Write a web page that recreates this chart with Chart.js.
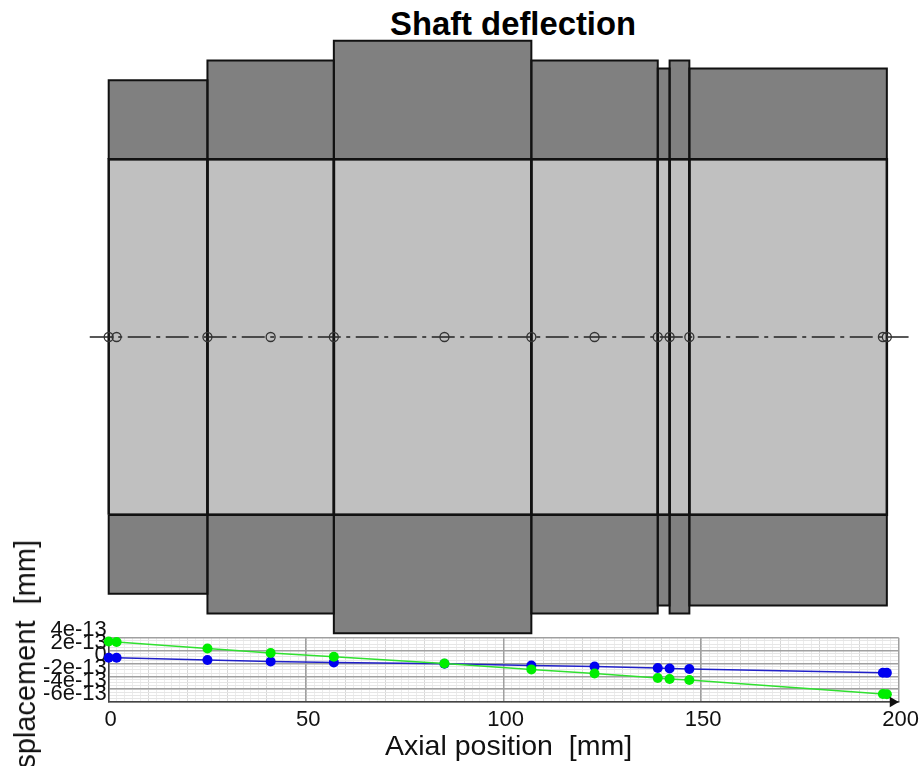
<!DOCTYPE html>
<html>
<head>
<meta charset="utf-8">
<title>Shaft deflection</title>
<script src="https://cdn.jsdelivr.net/npm/chart.js@4"></script>
<style>
    html, body { margin: 0; padding: 0; width: 922px; height: 766px; overflow: hidden; background: #fff; }
    body { position: relative; font-family: "Liberation Sans", Arial, sans-serif; color: #111; }
    canvas { position: absolute; left: 0; }
    #shaft-chart { top: 0; }
    #deflection-chart { top: 600px; }
    #chart-title { position: absolute; left: 390px; top: 4px; font-size: 32.8px; line-height: 40px; font-weight: bold; white-space: nowrap; color: #000; }
    #y-title { position: absolute; left: 9px; top: 540px; font-size: 29px; line-height: 32px; white-space: pre; writing-mode: vertical-rl; transform: rotate(180deg); }
    #x-title { position: absolute; left: 385px; top: 729px; font-size: 28.5px; line-height: 32px; white-space: pre; }
</style>
</head>
<body>
<div id="chart-title">Shaft deflection</div>
<canvas id="shaft-chart" width="922" height="674"></canvas>
<canvas id="deflection-chart" width="922" height="166"></canvas>
<div id="y-title">Displacement  [mm]</div>
<div id="x-title">Axial position  [mm]</div>
<script>
// shaft geometry, mm
const sectionEdges = [0, 25, 57, 107, 139, 142, 147, 197];
const boreRadius = 45;
const outerRadius = [65, 70, 75, 70, 68, 70, 68];
const centerLineEnds = [-4.8, 202.5];

// calculation nodes along the shaft, mm
const nodePositions = [0, 2, 25, 41, 57, 85, 107, 123, 139, 142, 147, 196, 197];

// displacement at each node, in units of 1e-13 mm
const greenValues = [3.42, 3.33, 2.33, 1.62, 1.04, 0, -0.93, -1.56, -2.27, -2.43, -2.58, -4.76, -4.8];
const blueValues = [0.89, 0.87, 0.53, 0.31, 0.16, -0.05, -0.31, -0.47, -0.72, -0.78, -0.87, -1.45, -1.47];

const yTickValues = [4, 2, 0, -2, -4, -6];
const yTickLabels = ['4e-13', '2e-13', '0', '-2e-13', '-4e-13', '-6e-13'];
const arrowTip = [198.5, -6];

// the filler needs an open path, closing the rectangle collapses its x bounds
const openRect = (x0, x1, y0, y1) => [
    {x: x0, y: y0}, {x: x0, y: y1}, {x: x1, y: y1}, {x: x1, y: y0}
];

const sectionFill = (x0, x1, y0, y1, color) => ({
    data: openRect(x0, x1, y0, y1),
    showLine: true,
    pointRadius: 0,
    borderWidth: 0,
    backgroundColor: color,
    fill: {value: y0},
    clip: false,
    order: 6
});

const sectionOutline = (x0, x1, y0, y1, width, order) => ({
    data: [...openRect(x0, x1, y0, y1), {x: x0, y: y0}],
    showLine: true,
    pointRadius: 0,
    borderColor: '#111',
    borderWidth: width,
    borderJoinStyle: 'miter',
    clip: false,
    order
});

const shaftDatasets = [];
outerRadius.forEach((r, i) => {
    const x0 = sectionEdges[i], x1 = sectionEdges[i + 1];
    shaftDatasets.push(sectionFill(x0, x1, boreRadius, r, '#808080'));
    shaftDatasets.push(sectionFill(x0, x1, -boreRadius, -r, '#808080'));
    shaftDatasets.push(sectionFill(x0, x1, -boreRadius, boreRadius, '#c0c0c0'));
    shaftDatasets.push(sectionOutline(x0, x1, boreRadius, r, 2, 4));
    shaftDatasets.push(sectionOutline(x0, x1, -boreRadius, -r, 2, 4));
    shaftDatasets.push(sectionOutline(x0, x1, -boreRadius, boreRadius, 2.5, 3));
});
shaftDatasets.push({
    data: centerLineEnds.map(x => ({x, y: 0})),
    showLine: true,
    pointRadius: 0,
    borderColor: '#222',
    borderWidth: 1.5,
    borderDash: [23, 5.5, 4, 5.5],
    clip: false,
    order: 2
});
shaftDatasets.push({
    data: nodePositions.map(x => ({x, y: 0})),
    showLine: false,
    pointRadius: 4.5,
    pointBorderWidth: 1.3,
    pointBorderColor: '#333',
    pointBackgroundColor: 'transparent',
    clip: false,
    order: 1
});

new Chart(document.getElementById('shaft-chart'), {
    type: 'scatter',
    data: {datasets: shaftDatasets},
    options: {
        responsive: false,
        animation: false,
        layout: {padding: {left: 108.7, right: 23.3, top: 0, bottom: 0}},
        plugins: {legend: {display: false}, tooltip: {enabled: false}},
        scales: {
            x: {type: 'linear', min: 0, max: 200, display: false},
            y: {type: 'linear', min: -83.85, max: 83.85, display: false}
        }
    }
});

const tickFont = {family: '"Liberation Sans", Arial, sans-serif', size: 22, lineHeight: 1.3};

const seriesDataset = (values, lineColor, dotColor, order) => ({
    data: nodePositions.map((x, i) => ({x, y: values[i]})),
    showLine: true,
    borderColor: lineColor,
    borderWidth: 1.5,
    pointRadius: 5,
    pointBorderWidth: 0,
    pointBackgroundColor: dotColor,
    clip: false,
    order
});

new Chart(document.getElementById('deflection-chart'), {
    type: 'scatter',
    data: {
        datasets: [
            {
                data: [{x: arrowTip[0], y: arrowTip[1]}],
                pointStyle: 'triangle',
                rotation: 90,
                pointRadius: 6,
                pointBorderWidth: 0,
                pointBackgroundColor: '#111',
                clip: false,
                order: 1
            },
            seriesDataset(greenValues, '#30e030', '#00ee00', 2),
            seriesDataset(blueValues, '#2020c8', '#0000f0', 3)
        ]
    },
    options: {
        responsive: false,
        animation: false,
        layout: {padding: {left: 0, right: 23.3, top: 37.7, bottom: 31}},
        plugins: {legend: {display: false}, tooltip: {enabled: false}},
        scales: {
            x: {
                type: 'linear',
                min: 0,
                max: 200,
                afterFit: scale => { scale.height = 33; },
                border: {color: '#444', width: 1.5},
                grid: {color: '#a0a0a0', lineWidth: 1.5, drawTicks: false},
                ticks: {stepSize: 50, font: tickFont, color: '#111', padding: 4, labelOffset: 2, maxRotation: 0}
            },
            y: {
                type: 'linear',
                min: -6,
                max: 4,
                afterFit: scale => { scale.width = 108.7; },
                border: {color: '#444', width: 1.5},
                grid: {color: '#a0a0a0', lineWidth: 1.5, drawTicks: false},
                ticks: {
                    stepSize: 2,
                    autoSkip: false,
                    font: tickFont,
                    color: '#111',
                    padding: 2,
                    labelOffset: -8,
                    callback: v => yTickLabels[yTickValues.indexOf(v)]
                }
            },
            // light minor grid, under the major one (grid z defaults to -1)
            xMinor: {
                type: 'linear',
                position: 'bottom',
                min: 0,
                max: 200,
                border: {display: false},
                grid: {
                    z: -2,
                    drawTicks: false,
                    color: ctx => (ctx.tick && ctx.tick.value % 10 === 0 ? '#d8d8d8' : '#ececec')
                },
                ticks: {display: false, stepSize: 2, autoSkip: false}
            },
            yMinor: {
                type: 'linear',
                position: 'left',
                min: -6,
                max: 4,
                border: {display: false},
                grid: {z: -2, drawTicks: false, color: '#e6e6e6'},
                ticks: {display: false, stepSize: 0.5, autoSkip: false}
            }
        }
    }
});
</script>
</body>
</html>
